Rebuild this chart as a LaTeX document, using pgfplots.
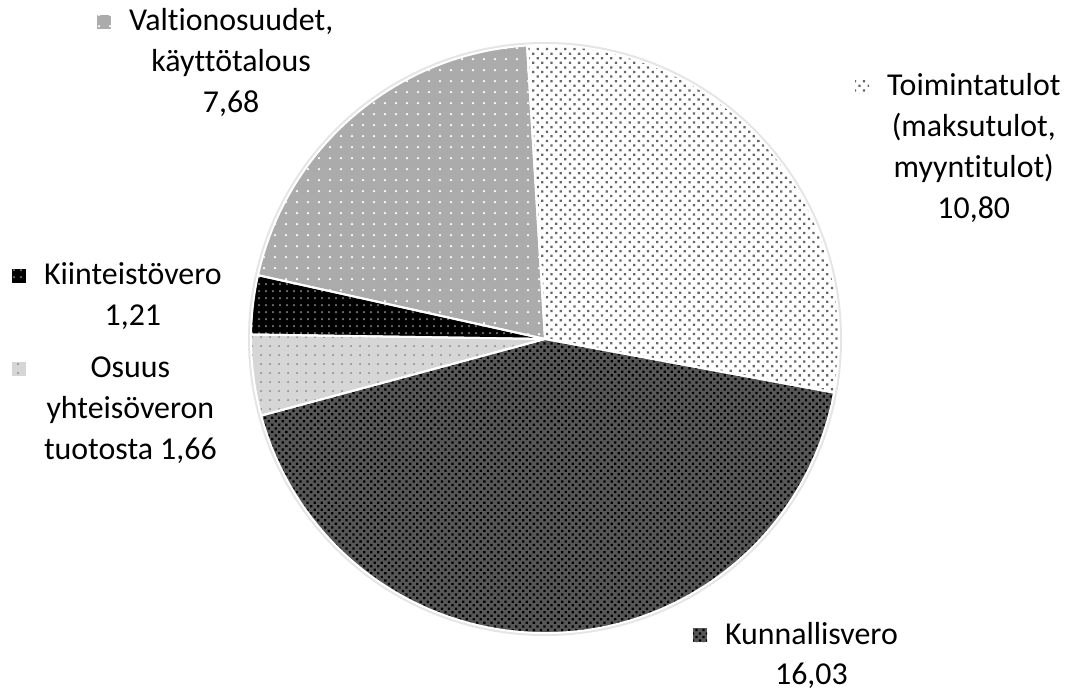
\documentclass[border=0pt]{standalone}
\usepackage{pgfplots}
\pgfplotsset{compat=1.18}
\usepackage{pgfplotstable}
\usetikzlibrary{patterns.meta}
\usepackage{fontspec}
\setmainfont{Carlito}[Ligatures=CommonOff]

% slice values, in drawing order (clockwise from the top)
\pgfplotstableread{
idx value
0 10.80
1 16.03
2 1.66
3 1.21
4 7.68
}\piedata

\tikzset{
  s0/.style={fill=white, postaction={pattern={Dots[distance=6.5bp,radius=1.6bp,angle=45]}, pattern color=black!60}},
  s1/.style={fill=black!66, postaction={pattern={Dots[distance=5bp,radius=1.6bp,angle=45]}, pattern color=black}},
  s2/.style={fill=black!16, postaction={pattern={Dots[distance=9bp,radius=1.1bp]}, pattern color=black!45}},
  s3/.style={fill=black, postaction={pattern={Dots[distance=7bp,radius=1.2bp]}, pattern color=black!55}},
  s4/.style={fill=black!33, postaction={pattern={Dots[distance=11bp,radius=1.3bp]}, pattern color=white}},
  lbl/.style={inner sep=0pt, outer sep=0pt, anchor=base west,
    font=\fontsize{32}{41}\selectfont},
}

\newcommand\pkey[1]{\raisebox{2bp}{\tikz\fill[#1] (0,0) rectangle (14bp,14bp);}\hspace{18bp}}

\begin{document}
\begin{tikzpicture}
% cumulative angles from the table
\def\total{0}
\pgfplotsforeachungrouped \i in {0,...,4}{%
  \pgfplotstablegetelem{\i}{value}\of\piedata
  \pgfmathsetmacro\total{\total+\pgfplotsretval}}
\def\cur{93.5}
\pgfplotsforeachungrouped \i in {0,...,4}{%
  \pgfplotstablegetelem{\i}{value}\of\piedata
  \pgfmathsetmacro\nxt{\cur-360*\pgfplotsretval/\total}%
  \expandafter\xdef\csname sa\i\endcsname{\cur}%
  \expandafter\xdef\csname ea\i\endcsname{\nxt}%
  \global\let\cur\nxt}
\begin{axis}[
  width=1066bp, height=685bp, scale only axis,
  xmin=0, xmax=1066, ymin=0, ymax=685,
  hide axis, clip=false,
]
\path (axis cs:0,0) rectangle (axis cs:1066,685);
\fill[black!10] (axis cs:545,346) circle[radius=297bp];
\pgfplotsinvokeforeach{0,...,4}{
  \fill[s#1] (axis cs:545,346) -- ++(\csname sa#1\endcsname:294bp)
    arc[start angle=\csname sa#1\endcsname, end angle=\csname ea#1\endcsname, radius=294bp] -- cycle;
}
\pgfplotsinvokeforeach{0,...,4}{
  \draw[white, line width=2bp, line join=round] (axis cs:545,346) -- ++(\csname sa#1\endcsname:294bp)
    arc[start angle=\csname sa#1\endcsname, end angle=\csname ea#1\endcsname, radius=294bp] -- cycle;
}
\node[lbl] at (axis cs:97,654) {\pkey{s4}\begin{tabular}[t]{@{}c@{}}Valtionosuudet,\\käyttötalous\\7,68\end{tabular}};
\node[lbl] at (axis cs:855,589) {\pkey{s0}\begin{tabular}[t]{@{}c@{}}Toimintatulot\\(maksutulot,\\myyntitulot)\\10,80\end{tabular}};
\node[lbl] at (axis cs:12,400) {\pkey{s3}\begin{tabular}[t]{@{}c@{}}Kiinteistövero\\1,21\end{tabular}};
\node[lbl] at (axis cs:12,307) {\pkey{s2}\begin{tabular}[t]{@{}c@{}}Osuus\\yhteisöveron\\tuotosta 1,66\end{tabular}};
\node[lbl] at (axis cs:693,41) {\pkey{s1}\begin{tabular}[t]{@{}c@{}}Kunnallisvero\\16,03\end{tabular}};
\end{axis}
\end{tikzpicture}
\end{document}
